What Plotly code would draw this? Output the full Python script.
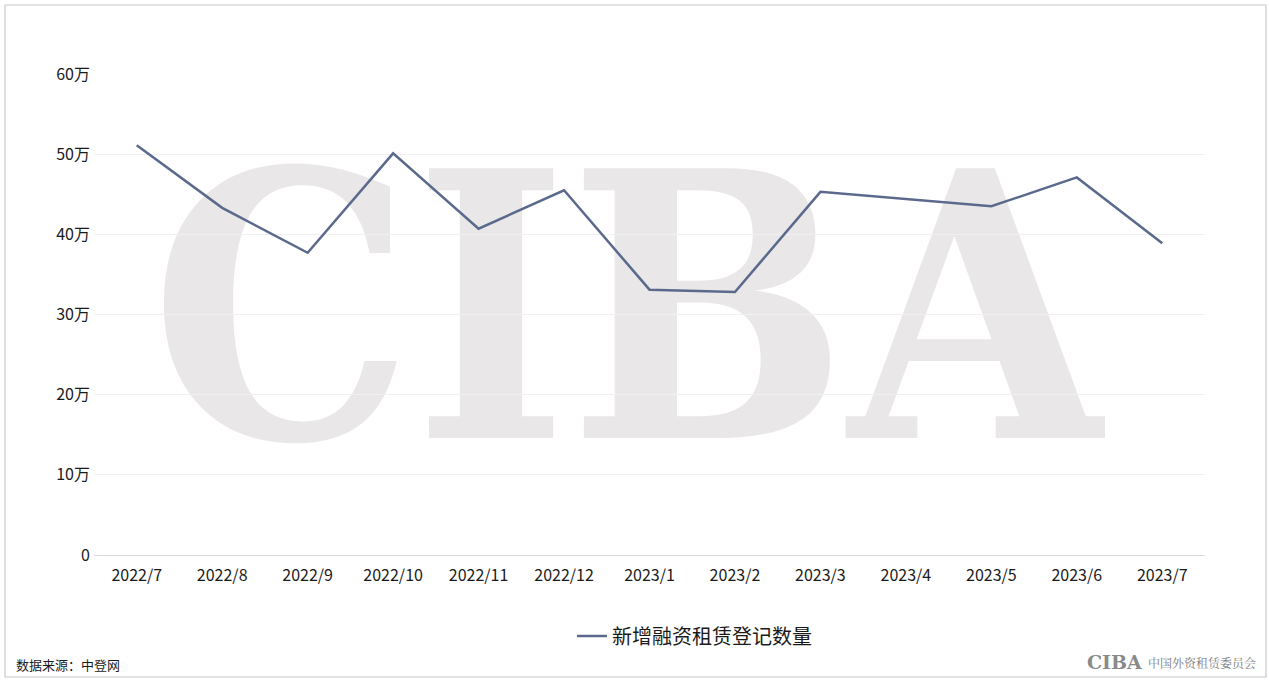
import base64
import plotly.graph_objects as go

months = ["2022/7", "2022/8", "2022/9", "2022/10", "2022/11", "2022/12", "2023/1",
          "2023/2", "2023/3", "2023/4", "2023/5", "2023/6", "2023/7"]
values = [51.1, 43.3, 37.7, 50.1, 40.7, 45.5, 33.1, 32.8, 45.3, 44.4, 43.5, 47.1, 38.9]
series_name = "新增融资租赁登记数量"
tick_vals = [0, 10, 20, 30, 40, 50, 60]
tick_text = ["0", "10万", "20万", "30万", "40万", "50万", "60万"]

FONT = "Microsoft YaHei, Noto Sans CJK SC, sans-serif"
PW, PH = 1111, 481  # plot area size in px

def px_x(x):
    return (x - 94) / PW

def px_y(y):
    return (555 - y) / PH

svg = ('<svg xmlns="http://www.w3.org/2000/svg" width="955" height="290" viewBox="0 0 955 290">'
       '<text x="0" y="283" font-family="DejaVu Serif, serif" font-weight="bold" font-size="370" '
       'fill="#e9e7e7" textLength="955" lengthAdjust="spacingAndGlyphs">CIBA</text></svg>')
svg_uri = "data:image/svg+xml;base64," + base64.b64encode(svg.encode()).decode()

fig = go.Figure()
fig.add_trace(go.Scatter(
    x=months, y=values, mode="lines", name=series_name,
    line=dict(color="#5b6a8c", width=2.5),
))

fig.update_layout(
    width=1269, height=682,
    paper_bgcolor="white", plot_bgcolor="white",
    margin=dict(l=94, r=64, t=74, b=127),
    font=dict(family=FONT, size=16, color="#1a1a1a"),
    showlegend=True,
    legend=dict(orientation="h", x=0.5 + 45 / PW, xanchor="center", y=px_y(636), yanchor="middle",
                font=dict(size=20, color="#1a1a1a")),
    xaxis=dict(type="category", range=[-0.5, 12.5], showgrid=False, showline=True,
               linecolor="#d9d9d9", linewidth=1, ticks="", tickfont=dict(size=16),
               ticklabelstandoff=6),
    yaxis=dict(range=[0, 60], tickvals=tick_vals, ticktext=tick_text, showgrid=True,
               gridcolor="#f0f0f0", gridwidth=1, zeroline=False, showline=False,
               ticks="", tickfont=dict(size=16), ticklabelstandoff=3),
    images=[dict(source=svg_uri, xref="paper", yref="paper",
                 x=px_x(150), y=px_y(155), sizex=955 / PW, sizey=290 / PH,
                 xanchor="left", yanchor="top", layer="below", sizing="stretch")],
    shapes=[dict(type="rect", xref="paper", yref="paper",
                 x0=px_x(5), x1=px_x(1266), y0=px_y(677), y1=px_y(5),
                 line=dict(color="#c8c8c8", width=1.2), fillcolor="rgba(0,0,0,0)")],
    annotations=[
        dict(text="数据来源：中登网", xref="paper", yref="paper",
             x=px_x(14), y=px_y(664), xanchor="left", yanchor="middle",
             showarrow=False, font=dict(size=13, color="#1a1a1a")),
        dict(text="<b>CIBA</b>", xref="paper", yref="paper",
             x=px_x(1144), y=px_y(662), xanchor="right", yanchor="middle",
             showarrow=False, font=dict(family="DejaVu Serif, serif", size=19, color="#8a8a8a")),
        dict(text="中国外资租赁委员会", xref="paper", yref="paper",
             x=px_x(1146), y=px_y(662), xanchor="left", yanchor="middle",
             showarrow=False, font=dict(family="Noto Serif CJK SC, Noto Sans CJK SC, serif",
                                        size=12, color="#7a7a7a")),
    ],
)

fig.write_html("out.html", config={"displayModeBar": False},
               post_script="document.body.style.margin='0';")
